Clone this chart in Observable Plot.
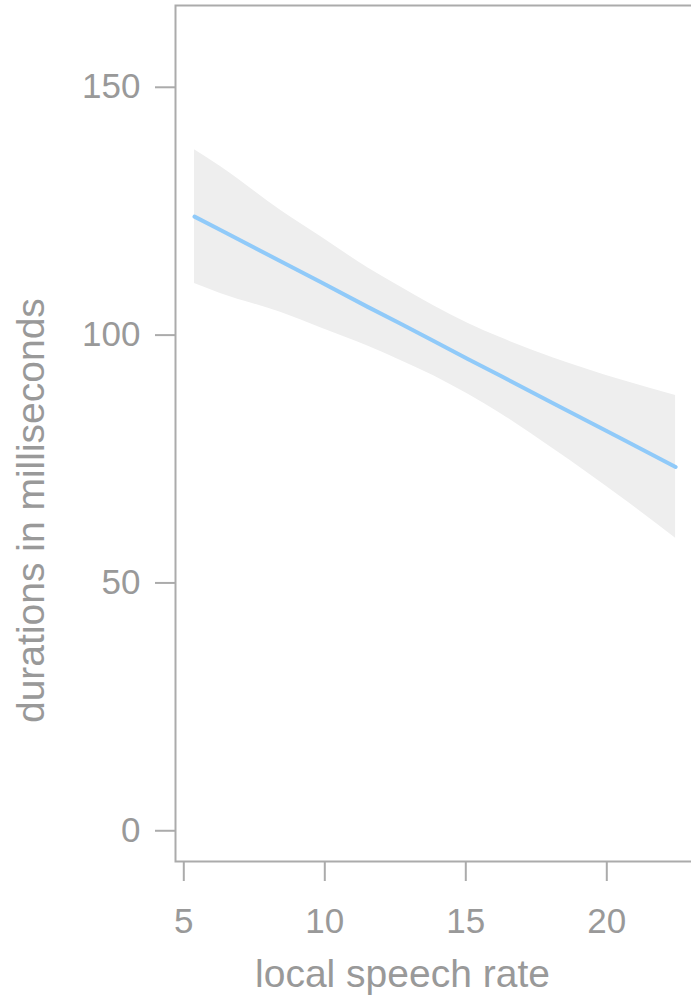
<!DOCTYPE html>
<html>
<head>
<meta charset="utf-8">
<script src="https://cdn.jsdelivr.net/npm/d3@7"></script>
<script src="https://cdn.jsdelivr.net/npm/@observablehq/plot@0.6"></script>
<style>
  html, body { margin: 0; padding: 0; background: #fff; overflow: hidden; }
  #chart { width: 691px; height: 1006px; overflow: hidden; }
</style>
</head>
<body>
<div id="chart"></div>
<script>
// local speech rate (x) at which the smooth was sampled
const rate  = [5.38, 6.30, 8.43, 9.85, 11.52, 12.69, 13.86, 15.07, 16.23, 18.11, 20.49, 22.44];
// fitted duration (ms)
const fit   = [123.9, 121.2, 114.9, 110.7, 105.7, 102.3, 98.8, 95.2, 91.8, 86.2, 79.2, 73.4];
// confidence band
const upper = [137.4, 134.0, 125.2, 119.9, 113.6, 109.7, 105.9, 102.4, 99.5, 95.4, 91.0, 87.8];
const lower = [110.4, 108.4, 104.6, 101.5, 97.8, 94.9, 91.8, 88.1, 84.2, 77.0, 67.4, 59.0];

const xTicks = [5, 10, 15, 20];
const yTicks = [0, 50, 100, 150];
const xTitle = "local speech rate";
const yTitle = "durations in milliseconds";

const data = rate.map((r, i) => ({rate: r, fit: fit[i], lo: lower[i], hi: upper[i]}));

const axisGray = "#ababab";
const textGray = "#999999";

const chart = Plot.plot({
  width: 700,
  height: 1006,
  marginLeft: 175,
  marginRight: 6,
  marginTop: 5,
  marginBottom: 145,
  style: {fontFamily: "'Liberation Sans', Arial, sans-serif", background: "#fff", maxWidth: "none"},
  x: {domain: [4.706, 23.11]},
  y: {domain: [-6.2, 166.5]},
  marks: [
    Plot.areaY(data, {x: "rate", y1: "lo", y2: "hi", fill: "#eeeeee", curve: "monotone-x"}),
    Plot.line(data, {x: "rate", y: "fit", stroke: "#90caf9", strokeWidth: 4}),
    Plot.frame({stroke: axisGray, strokeWidth: 2}),
    Plot.axisX(xTicks, {tickSize: 20, tickPadding: 27, fontSize: 35, stroke: axisGray, strokeWidth: 2, fill: textGray, label: null}),
    Plot.axisY(yTicks, {tickSize: 20, tickPadding: 15, fontSize: 35, stroke: axisGray, strokeWidth: 2, fill: textGray, label: null}),
    Plot.text([xTitle], {x: () => 12.755, y: () => -31.5, lineAnchor: "bottom", fontSize: 39, fill: textGray}),
    Plot.text([yTitle], {x: () => 0.05, y: () => 64.6, rotate: -90, lineAnchor: "bottom", fontSize: 39, fill: textGray})
  ]
});
document.getElementById("chart").appendChild(chart);
</script>
</body>
</html>
